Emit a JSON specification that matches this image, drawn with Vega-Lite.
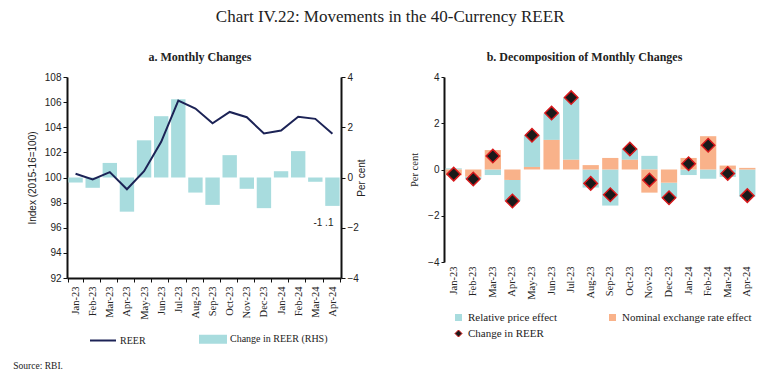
{
  "$schema": "https://vega.github.io/schema/vega-lite/v6.json",
  "padding": {"left": 13, "top": 8, "right": 5, "bottom": 5},
  "background": "white",
  "config": {"view": {"stroke": null}, "axis": {"grid": false}},
  "title": {"text": "Chart IV.22: Movements in the 40-Currency REER", "font": "Liberation Serif", "fontSize": 17, "fontWeight": "normal", "color": "#222", "anchor": "middle", "offset": 25, "dx": 5},
  "datasets": {
    "reer": [
      {"month": "Jan-23", "reer": 100.3, "chg": -0.2},
      {"month": "Feb-23", "reer": 99.85, "chg": -0.41},
      {"month": "Mar-23", "reer": 100.43, "chg": 0.58},
      {"month": "Apr-23", "reer": 99.06, "chg": -1.36},
      {"month": "May-23", "reer": 100.5, "chg": 1.48},
      {"month": "Jun-23", "reer": 102.84, "chg": 2.44},
      {"month": "Jul-23", "reer": 106.12, "chg": 3.11},
      {"month": "Aug-23", "reer": 105.49, "chg": -0.6},
      {"month": "Sep-23", "reer": 104.32, "chg": -1.09},
      {"month": "Oct-23", "reer": 105.22, "chg": 0.89},
      {"month": "Nov-23", "reer": 104.8, "chg": -0.45},
      {"month": "Dec-23", "reer": 103.5, "chg": -1.22},
      {"month": "Jan-24", "reer": 103.74, "chg": 0.25},
      {"month": "Feb-24", "reer": 104.83, "chg": 1.05},
      {"month": "Mar-24", "reer": 104.67, "chg": -0.17},
      {"month": "Apr-24", "reer": 103.48, "chg": -1.13, "lbl": "-1 .1"}
    ],
    "decomp": [
      {"month": "Jan-23", "effect": "Relative price effect", "value": 0.05},
      {"month": "Jan-23", "effect": "Nominal exchange rate effect", "value": -0.25},
      {"month": "Feb-23", "effect": "Relative price effect", "value": -0.1},
      {"month": "Feb-23", "effect": "Nominal exchange rate effect", "value": -0.31},
      {"month": "Mar-23", "effect": "Relative price effect", "value": -0.24},
      {"month": "Mar-23", "effect": "Nominal exchange rate effect", "value": 0.84},
      {"month": "Apr-23", "effect": "Relative price effect", "value": -0.9},
      {"month": "Apr-23", "effect": "Nominal exchange rate effect", "value": -0.45},
      {"month": "May-23", "effect": "Relative price effect", "value": 1.37},
      {"month": "May-23", "effect": "Nominal exchange rate effect", "value": 0.11},
      {"month": "Jun-23", "effect": "Relative price effect", "value": 1.14},
      {"month": "Jun-23", "effect": "Nominal exchange rate effect", "value": 1.28},
      {"month": "Jul-23", "effect": "Relative price effect", "value": 2.68},
      {"month": "Jul-23", "effect": "Nominal exchange rate effect", "value": 0.42},
      {"month": "Aug-23", "effect": "Relative price effect", "value": -0.78},
      {"month": "Aug-23", "effect": "Nominal exchange rate effect", "value": 0.19},
      {"month": "Sep-23", "effect": "Relative price effect", "value": -1.56},
      {"month": "Sep-23", "effect": "Nominal exchange rate effect", "value": 0.5},
      {"month": "Oct-23", "effect": "Relative price effect", "value": 0.46},
      {"month": "Oct-23", "effect": "Nominal exchange rate effect", "value": 0.42},
      {"month": "Nov-23", "effect": "Relative price effect", "value": 0.59},
      {"month": "Nov-23", "effect": "Nominal exchange rate effect", "value": -1.0},
      {"month": "Dec-23", "effect": "Relative price effect", "value": -0.63},
      {"month": "Dec-23", "effect": "Nominal exchange rate effect", "value": -0.57},
      {"month": "Jan-24", "effect": "Relative price effect", "value": -0.24},
      {"month": "Jan-24", "effect": "Nominal exchange rate effect", "value": 0.5},
      {"month": "Feb-24", "effect": "Relative price effect", "value": -0.4},
      {"month": "Feb-24", "effect": "Nominal exchange rate effect", "value": 1.44},
      {"month": "Mar-24", "effect": "Relative price effect", "value": -0.32},
      {"month": "Mar-24", "effect": "Nominal exchange rate effect", "value": 0.17},
      {"month": "Apr-24", "effect": "Relative price effect", "value": -1.18},
      {"month": "Apr-24", "effect": "Nominal exchange rate effect", "value": 0.07}
    ]
  },
  "vconcat": [
    {
      "title": {"text": "Source: RBI.", "orient": "bottom", "anchor": "start", "font": "Liberation Serif", "fontSize": 9.5, "fontWeight": "normal", "color": "#222", "offset": 14, "dx": -14},
      "spacing": 42,
      "resolve": {"scale": {"color": "independent"}, "legend": {"color": "independent"}},
      "hconcat": [
        {
          "width": 274,
          "height": 201,
          "title": {"text": "a. Monthly Changes", "font": "Liberation Serif", "fontSize": 12, "fontWeight": "bold", "color": "#222", "offset": 8, "dx": -4},
          "data": {"name": "reer"},
          "encoding": {
            "x": {
              "field": "month", "type": "ordinal",
              "scale": {"domain": ["Jan-23","Feb-23","Mar-23","Apr-23","May-23","Jun-23","Jul-23","Aug-23","Sep-23","Oct-23","Nov-23","Dec-23","Jan-24","Feb-24","Mar-24","Apr-24"], "paddingInner": 0.16, "paddingOuter": 0.08},
              "axis": {"title": null, "labelAngle": -90, "labelFont": "Liberation Serif", "labelFontSize": 10.5, "labelColor": "#222", "labelPadding": 4, "domainColor": "#111", "domainWidth": 2, "tickColor": "#111", "tickBand": "extent", "tickSize": 4}
            }
          },
          "layer": [
            {
              "mark": {"type": "bar"},
              "encoding": {
                "y": {"field": "chg", "type": "quantitative", "scale": {"domain": [-4, 4]}, "axis": {"orient": "right", "values": [-4, -2, 0, 2, 4], "title": "Per cent", "titleAngle": 270, "titleFont": "Liberation Sans", "titleFontSize": 10, "titleFontWeight": "normal", "titleColor": "#222", "titlePadding": 8, "labelFont": "Liberation Sans", "labelFontSize": 10, "labelColor": "#222", "domainColor": "#111", "domainWidth": 2, "tickColor": "#111", "tickSize": 4}},
                "color": {
                  "datum": "Change in REER (RHS)",
                  "scale": {"domain": ["REER", "Change in REER (RHS)"], "range": ["#1c2356", "#a8dcde"]},
                  "legend": {
                    "orient": "none", "legendX": 22, "legendY": 248, "direction": "horizontal", "columns": 2, "columnPadding": 50, "title": null,
                    "labelFont": "Liberation Serif", "labelFontSize": 10, "labelColor": "#222", "labelOffset": 3,
                    "symbolSize": 676,
                    "encode": {"symbols": {"update": {
                      "shape": {"signal": "datum.value === 'REER' ? 'stroke' : 'M-1,-0.27H1V0.27H-1Z'"},
                      "fill": {"signal": "datum.value === 'REER' ? 'transparent' : '#a8dcde'"},
                      "stroke": {"signal": "datum.value === 'REER' ? '#1c2356' : 'transparent'"},
                      "strokeWidth": {"value": 2},
                      "opacity": {"value": 1}
                    }}}
                  }
                }
              }
            },
            {
              "mark": {"type": "line", "strokeWidth": 2},
              "encoding": {
                "y": {"field": "reer", "type": "quantitative", "scale": {"domain": [92, 108]}, "axis": {"orient": "left", "values": [92, 94, 96, 98, 100, 102, 104, 106, 108], "title": "Index (2015-16=100)", "titleFont": "Liberation Sans", "titleFontSize": 10, "titleFontWeight": "normal", "titleColor": "#222", "titlePadding": 7, "labelFont": "Liberation Sans", "labelFontSize": 10, "labelColor": "#222", "domainColor": "#111", "domainWidth": 2, "tickColor": "#111", "tickSize": 4}},
                "color": {"datum": "REER"}
              }
            },
            {
              "transform": [{"filter": "datum.lbl != null"}],
              "mark": {"type": "text", "font": "Liberation Sans", "fontSize": 10, "color": "#222", "dx": -9, "dy": 17, "baseline": "middle"},
              "encoding": {
                "y": {"field": "chg", "type": "quantitative", "scale": {"domain": [-4, 4]}, "axis": null},
                "text": {"field": "lbl"}
              }
            }
          ],
          "resolve": {"scale": {"y": "independent"}}
        },
        {
          "width": 313,
          "height": 185,
          "title": {"text": "b. Decomposition of Monthly Changes", "font": "Liberation Serif", "fontSize": 12, "fontWeight": "bold", "color": "#222", "offset": 8, "frame": "group", "dx": -16},
          "encoding": {
            "x": {
              "field": "month", "type": "ordinal",
              "scale": {"domain": ["Jan-23","Feb-23","Mar-23","Apr-23","May-23","Jun-23","Jul-23","Aug-23","Sep-23","Oct-23","Nov-23","Dec-23","Jan-24","Feb-24","Mar-24","Apr-24"], "paddingInner": 0.17, "paddingOuter": 0.08},
              "axis": {"title": null, "labelAngle": -90, "labelFont": "Liberation Serif", "labelFontSize": 10.5, "labelColor": "#222", "labelPadding": 4, "domain": false, "ticks": false}
            }
          },
          "layer": [
            {
              "data": {"name": "decomp"},
              "mark": {"type": "bar"},
              "encoding": {
                "y": {"field": "value", "type": "quantitative", "stack": "zero", "scale": {"domain": [-4, 4]}, "axis": {"values": [-4, -2, 0, 2, 4], "title": "Per cent", "titleFont": "Liberation Serif", "titleFontSize": 10.5, "titleFontWeight": "normal", "titleColor": "#222", "titlePadding": 8, "labelFont": "Liberation Sans", "labelFontSize": 10, "labelColor": "#222", "domainColor": "#111", "domainWidth": 2, "tickColor": "#111", "tickSize": 3}},
                "color": {
                  "field": "effect", "type": "nominal",
                  "scale": {"domain": ["Relative price effect", "Nominal exchange rate effect", "Change in REER"], "range": ["#a8dcde", "#f9b28a", "#1a1a1a"]},
                  "legend": {
                    "orient": "none", "legendX": 9, "legendY": 235, "direction": "horizontal", "columns": 2, "columnPadding": 50, "rowPadding": 4, "title": null,
                    "labelFont": "Liberation Serif", "labelFontSize": 11, "labelColor": "#222", "labelOffset": 4,
                    "symbolSize": 49,
                    "encode": {"symbols": {"update": {
                      "shape": {"signal": "datum.value === 'Change in REER' ? 'diamond' : 'square'"},
                      "stroke": {"signal": "datum.value === 'Change in REER' ? '#d7191c' : 'transparent'"},
                      "strokeWidth": {"value": 1},
                      "opacity": {"value": 1}
                    }}}
                  }
                },
                "order": {"field": "effect", "sort": "ascending"}
              }
            },
            {
              "data": {"values": [{}]},
              "mark": {"type": "rule", "strokeWidth": 2, "color": "#111"},
              "encoding": {"y": {"datum": 0}}
            },
            {
              "data": {"name": "reer"},
              "mark": {"type": "point", "shape": "diamond", "filled": true, "size": 180, "stroke": "#d7191c", "strokeWidth": 1.5, "opacity": 1},
              "encoding": {
                "y": {"field": "chg", "type": "quantitative"},
                "color": {"datum": "Change in REER"}
              }
            }
          ]
        }
      ]
    }
  ]
}
